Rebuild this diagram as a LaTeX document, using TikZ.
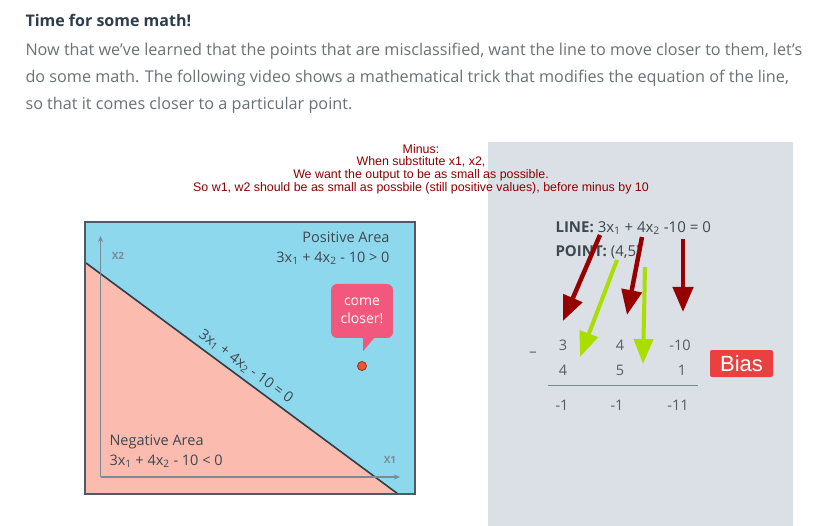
\documentclass[tikz,border=0pt]{standalone}
\usepackage{fontspec}
\setmainfont{Open Sans}
\newfontfamily\arialfont{Liberation Sans}
\definecolor{titlegray}{RGB}{46,61,73}
\definecolor{bodygray}{RGB}{105,112,118}
\definecolor{notered}{RGB}{139,0,0}
\definecolor{panelgray}{RGB}{218,224,230}
\definecolor{plotblue}{RGB}{142,216,237}
\definecolor{plotpink}{RGB}{251,188,175}
\definecolor{plotframe}{RGB}{80,90,98}
\definecolor{areagray}{RGB}{62,72,80}
\definecolor{axisgray}{RGB}{122,138,150}
\definecolor{calloutpink}{RGB}{242,88,125}
\definecolor{dotorange}{RGB}{240,84,50}
\definecolor{arrowred}{RGB}{150,0,0}
\definecolor{arrowgreen}{RGB}{170,221,0}
\definecolor{biasred}{RGB}{234,64,64}
\definecolor{numgray}{RGB}{85,92,98}
\usetikzlibrary{arrows.meta, positioning}

\begin{document}
\begin{tikzpicture}[x=1pt, y=-1pt,
  headtext/.style={anchor=west, text=titlegray, font=\bfseries\fontsize{16}{20}\selectfont},
  bodytext/.style={anchor=west, align=left, text=bodygray, font=\fontsize{16.2}{27}\selectfont},
  note/.style={align=center, text=notered, font=\arialfont\fontsize{12.4}{12.7}\selectfont},
  area/.style={text=areagray, font=\fontsize{14.5}{20}\selectfont},
  axislbl/.style={text=axisgray, font=\bfseries\fontsize{10}{11}\selectfont},
  axis/.style={-{Stealth[length=6pt,width=5pt]}, axisgray, line width=1.2pt},
  callout/.style={fill=calloutpink, rounded corners=6pt, text=white, align=center, minimum width=62pt, minimum height=54pt, inner sep=0pt, font=\fontsize{14}{18}\selectfont},
  eqtext/.style={anchor=west, text=areagray, font=\fontsize{15}{18}\selectfont},
  num/.style={text=numgray, font=\fontsize{14.5}{18}\selectfont},
  redarr/.style={-{Triangle[length=25pt,width=20pt]}, line width=4.5pt, arrowred},
  greenarr/.style={-{Triangle[length=25pt,width=19pt]}, line width=4pt, arrowgreen},
  biasbox/.style={fill=biasred, text=white, rounded corners=2pt, minimum width=63pt, minimum height=27pt, inner sep=0pt, font=\arialfont\fontsize{22}{24}\selectfont}
]
\useasboundingbox (0,0) rectangle (824,526);

% heading and intro
\node[headtext] (title) at (22,20) {Time for some math!};
\node[bodytext] (intro) at (22,78) {Now that we've learned that the points that are misclassified, want the line to move closer to them, let's\\do some math. The following video shows a mathematical trick that modifies the equation of the line,\\so that it comes closer to a particular point.};

% grey panel
\fill[panelgray] (488,142) rectangle (793,526);

% note
\node[note] (minusnote) at (421,169) {Minus:\\When substitute x1, x2,\\We want the output to be as small as possible.\\So w1, w2 should be as small as possbile (still positive values), before minus by 10};

% plot
\coordinate (plotnw) at (85,222);
\coordinate (plotse) at (415,494);
\coordinate (linel) at (86,263);
\coordinate (liner) at (398,494);
\fill[plotblue] (plotnw) rectangle (plotse);
\fill[plotpink] (linel) -- (liner) -- (86,494) -- cycle;
\draw[titlegray, line width=1.6pt] (linel) -- (liner)
  node[sloped, above=1pt, pos=0.49, text=areagray, font=\fontsize{14.5}{16}\selectfont] (linelbl) {3x\textsubscript{1} + 4x\textsubscript{2} - 10 = 0};
\draw[plotframe, line width=1.5pt] (plotnw) rectangle (plotse);

\coordinate (origin) at (100.5,477);
\coordinate (x2end) at (100.5,236);
\coordinate (x1end) at (400,477);
\draw[axis] (origin) -- (x2end);
\draw[axis] (origin) -- (x1end);
\node[axislbl] (x2lbl) at (118,256) {X2};
\node[axislbl] (x1lbl) at (390,460) {X1};

\node[area, anchor=east, align=right] (posarea) at (393,248) {Positive Area\\3x\textsubscript{1} + 4x\textsubscript{2} - 10 > 0};
\node[area, anchor=west, align=left] (negarea) at (106,451) {Negative Area\\3x\textsubscript{1} + 4x\textsubscript{2} - 10 < 0};

\node[callout] (closer) at (362,311) {come\\closer!};
\fill[calloutpink] ([xshift=1pt]closer.south) -- ++(0,13) -- ++(11,-13) -- cycle;
\node[circle, fill=dotorange, draw=dotorange!60!black, line width=0.8pt, minimum size=9pt, inner sep=0pt] (point) at (362,366) {};

% equation side
\node[eqtext] (lineeq) at (552,228) {\textbf{LINE:} 3x\textsubscript{1} + 4x\textsubscript{2} -10 = 0};
\node[eqtext] (pointeq) at (552,252) {\textbf{POINT:} (4,5)};

\node[num] (wa) at (563,345) {3};
\node[num] (wb) at (620,345) {4};
\node[num] (wc) at (680,345) {-10};
\node[num] (pa) at (563,370) {4};
\node[num] (pb) at (620,370) {5};
\node[num] (pc) at (682,370) {1};
\node[num] (ra) at (562,405) {-1};
\node[num] (rb) at (617,405) {-1};
\node[num] (rc) at (678,405) {-11};
\node[num] (minus) at (533,354) {--};
\draw[axisgray, line width=1pt] (548,385) -- (698,385);

\node[biasbox] (bias) at (741.5,363.5) {Bias};

% arrows
\coordinate (ra1) at (600,235);
\coordinate (ra2) at (563,321);
\coordinate (rb1) at (642,237);
\coordinate (rb2) at (627,315);
\coordinate (rc1) at (683,239);
\coordinate (rc2) at (683,312);
\coordinate (ga1) at (617,260);
\coordinate (ga2) at (580,357);
\coordinate (gb1) at (645,267);
\coordinate (gb2) at (643,364);
\draw[redarr] (ra1) -- (ra2);
\draw[redarr] (rb1) -- (rb2);
\draw[redarr] (rc1) -- (rc2);
\draw[greenarr] (ga1) -- (ga2);
\draw[greenarr] (gb1) -- (gb2);

\end{tikzpicture}
\end{document}
